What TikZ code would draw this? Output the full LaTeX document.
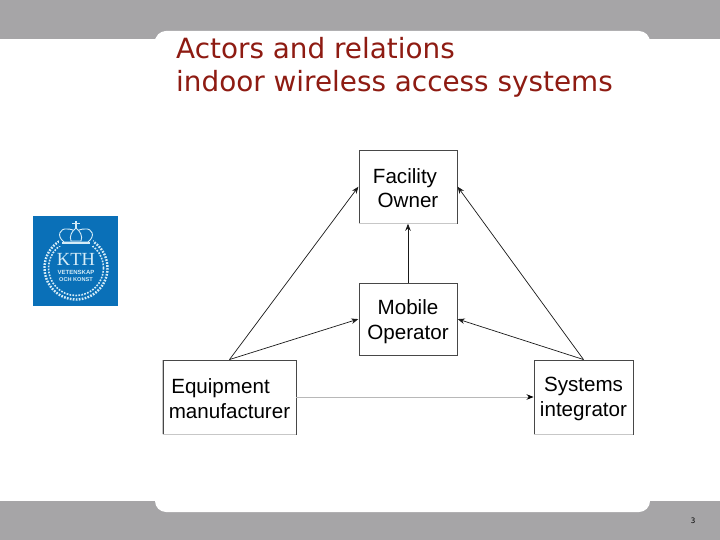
\documentclass[tikz,border=0pt]{standalone}
\usepackage{fontspec}
\setmainfont{Liberation Sans}
\newfontfamily\titlefont{DejaVu Sans}
\newfontfamily\logofont{Liberation Serif}
\newfontfamily\monofont{DejaVu Sans Mono}
\usetikzlibrary{arrows.meta}
\definecolor{band}{HTML}{A6A5A7}
\definecolor{titlered}{HTML}{8E1B12}
\definecolor{kthblue}{HTML}{0A70B8}
\definecolor{logoline}{HTML}{D5ECF7}
\newcommand{\lowertext}{\rule{0pt}{20pt}}
\tikzset{
  actor/.style={draw=black!72,line width=0.9pt,fill=white,align=center,font=\fontsize{20.6}{24.7}\selectfont,inner sep=0pt,minimum width=#1},
  rel/.style={draw=black!90,line width=0.7pt,-{Stealth[length=7pt,width=5.5pt]},shorten >=0.3pt},
  lightrel/.style={draw=black!28,line width=0.9pt,-{Stealth[length=7pt,width=5.5pt,color=black]}},
  lowedge/.style={draw=black!22,line width=1pt},
  ttl/.style={anchor=west,text=titlered,inner sep=0pt,font=\titlefont\fontsize{27.85}{33}\selectfont},
  wreath/.style={draw=logoline,line width=2.4pt,dash pattern=on 1.7pt off 1.3pt},
  crown/.style={draw=logoline,line width=0.9pt,fill=kthblue},
  logotext/.style={text=logoline,inner sep=0pt},
}
\begin{document}
\begin{tikzpicture}[x=1pt,y=-1pt]
\useasboundingbox (0,0) rectangle (720,540);
\fill[band] (0,0) rectangle (720,540);
\fill[white] (0,39) rectangle (720,501);
\fill[white,rounded corners=11pt] (155,31) -- (650,31) -- (650,512) -- (155,512) -- cycle;
\fill[white] (155,39) -- (165,31) -- (165,39) -- cycle;
\node[ttl] (t1) at (176,48.5) {Actors and relations};
\node[ttl] (t2) at (176,84) {indoor wireless access systems};
% logo
\fill[kthblue] (33,216) rectangle (118,305.5);
\draw[wreath] (76,268) circle[radius=31.5];
\draw[wreath,line width=1.6pt] (76,268) circle[radius=27.5];
\fill[kthblue] (59,226) rectangle (93,246);
\draw[crown] (64,242) .. controls (56,236) and (60,228) .. (67,229) .. controls (71,229) and (74,230) .. (76,232) .. controls (78,230) and (81,229) .. (85,229) .. controls (92,228) and (96,236) .. (88,242) -- cycle;
\draw[crown] (71,241) .. controls (69,236) and (72,231) .. (76,228) .. controls (80,231) and (83,236) .. (81,241) -- cycle;
\draw[logoline,line width=1.4pt] (76,228) -- (76,221) (72,223.5) -- (80,223.5);
\fill[logoline] (62,242) rectangle (90,244);
\node[logotext,font=\logofont\fontsize{18.5}{18}\selectfont] (kth) at (76,259) {KTH};
\node[logotext,font=\bfseries\fontsize{6}{6}\selectfont] (v1) at (76,272) {VETENSKAP};
\node[logotext,font=\bfseries\fontsize{5.6}{6}\selectfont] (v2) at (76,280) {OCH KONST};
% actors
\node[actor=98pt,minimum height=73pt] (fo) at (408,186.5) {\rule{0pt}{18pt}Facility\hspace*{6pt}\\Owner};
\node[actor=98pt,minimum height=72pt] (mo) at (408,319) {\lowertext Mobile\\Operator};
\node[actor=133pt,minimum height=74pt] (em) at (229.5,397) {\rule{0pt}{18pt}Equipment\hspace*{18pt}\\manufacturer};
\node[actor=99pt,minimum height=74pt] (si) at (583.5,397) {\rule{0pt}{18pt}Systems\\integrator};
\draw[lowedge] (fo.south west) -- (fo.south east);
\draw[lowedge] (em.south west) -- (em.south east);
\draw[lowedge] (em.south west) -- (em.north west);
\draw[lowedge] (si.south west) -- (si.south east);
% relations
\draw[rel] (mo.north) -- (fo.south);
\draw[rel] (em.north) -- (fo.west);
\draw[rel] (em.north) -- (mo.west);
\draw[rel] (si.north) -- (fo.east);
\draw[rel] (si.north) -- (mo.east);
\draw[lightrel] (em.east) -- (si.west);
\node[font=\monofont\fontsize{7.5}{8}\selectfont,text=black,inner sep=0pt] (pg) at (693,521) {3};
\end{tikzpicture}
\end{document}
